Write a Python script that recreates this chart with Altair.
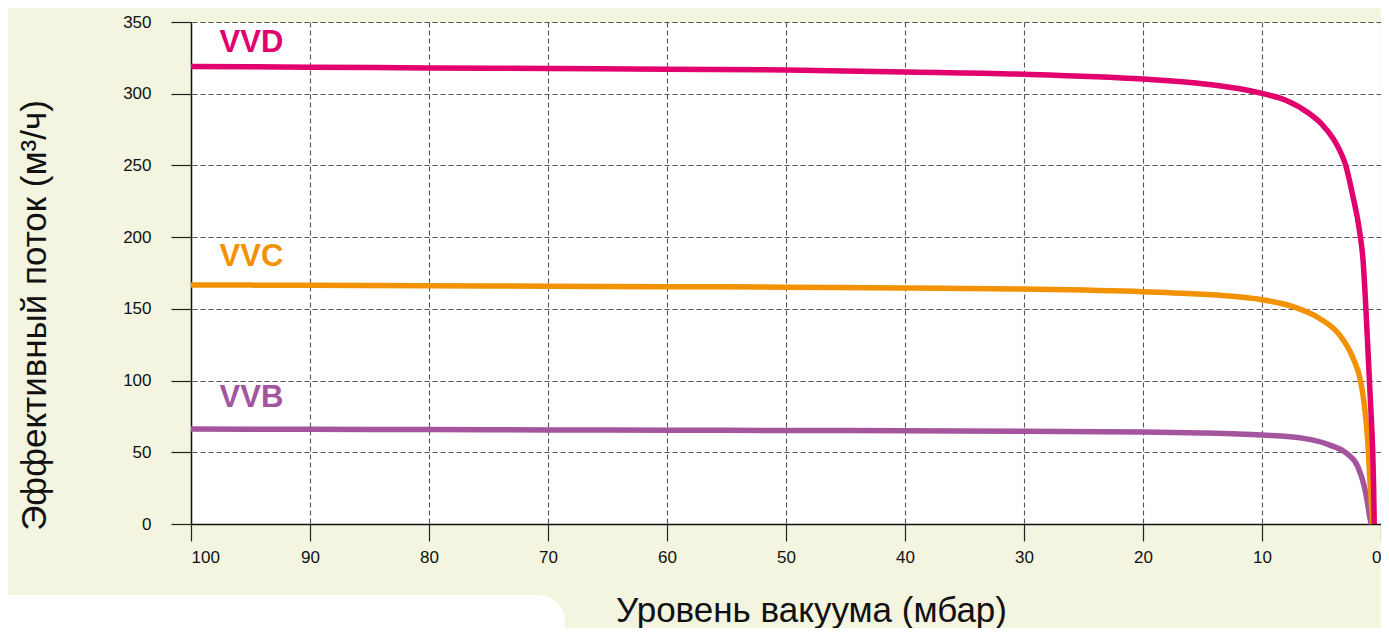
import altair as alt
import pandas as pd

# ---- data ----
vvd_x = [100, 90, 80, 70, 60, 50, 40, 30, 20, 15, 12, 10, 8, 6, 5, 4, 3.5, 3, 2.4, 1.8, 1.5, 1.3, 1.1, 0.95, 0.8, 0.7, 0.62, 0.57]
vvd_y = [319, 318.5, 318, 317.6, 317.1, 316.5, 315.2, 313.6, 310.2, 307, 303.6, 300.2, 295.5, 286, 279, 268.5, 261, 251, 230, 204, 183, 155, 122, 96, 71, 52, 26, 0]

vvc_x = [100, 90, 80, 70, 60, 50, 40, 30, 20, 15, 12, 10, 7.4, 5.2, 3.5, 2.4, 1.7, 1.4, 1.1, 0.95, 0.8, 0.68]
vvc_y = [166.7, 166.4, 166.1, 165.8, 165.5, 165.1, 164.6, 163.8, 162.0, 160.2, 158.4, 156.4, 151.5, 143.5, 132, 116.7, 99, 83, 56, 33, 13, 0]

vvb_x = [100, 90, 80, 70, 60, 50, 40, 30, 20, 15, 12, 10, 6.5, 4.3, 2.9, 1.95, 1.4, 1.1, 0.95, 0.82]
vvb_y = [66.2, 66, 65.8, 65.6, 65.4, 65.2, 65, 64.7, 64.1, 63.5, 62.8, 62, 59.7, 55, 49.3, 40, 26, 13, 5, 0]

series_names = ["VVB", "VVC", "VVD"]
series_colors = ["#a4559e", "#f39200", "#e1006d"]
label_x = [97.6, 97.6, 97.6]
label_y = [81.6, 179.9, 329.2]

x_ticks = [100, 90, 80, 70, 60, 50, 40, 30, 20, 10, 0]
y_ticks = [0, 50, 100, 150, 200, 250, 300, 350]

x_title = "Уровень вакуума (мбар)"
y_title = "Эффективный поток (м³/ч)"

# ---- build ----
series_data = {
    "VVB": (vvb_x, vvb_y),
    "VVC": (vvc_x, vvc_y),
    "VVD": (vvd_x, vvd_y),
}

W, H = 1190, 502
xs = alt.Scale(domain=[0, 100], reverse=True, nice=False)
ys = alt.Scale(domain=[0, 350], nice=False)

x_axis = alt.Axis(values=x_ticks, title=x_title, grid=True, tickSize=17,
                  labelPadding=8, titleX=620, titleY=86, titleBaseline="middle",
                  titleAnchor="middle", titleAlign="center")
y_axis = alt.Axis(values=y_ticks, title=y_title, grid=True, tickSize=20,
                  labelPadding=20, titleX=-157, titleY=293, titleBaseline="middle",
                  titleAlign="center", titleAngle=-90)

layers = []

# white cut-out in the lower-left of the beige background (decoration)
cut = alt.Chart(pd.DataFrame({"d": [0]})).mark_rect(
    color="white", cornerRadius=26
).encode(x=alt.value(-240), x2=alt.value(374), y=alt.value(573), y2=alt.value(660))
layers.append(cut)

for name, color in zip(series_names, series_colors):
    sx, sy = series_data[name]
    df = pd.DataFrame({"vac": sx, "flow": sy, "series": name})
    line = alt.Chart(df).mark_line(
        color=color, strokeWidth=5.5, interpolate="monotone", strokeCap="butt"
    ).encode(
        x=alt.X("vac:Q", scale=xs, axis=x_axis),
        y=alt.Y("flow:Q", scale=ys, axis=y_axis),
    )
    layers.append(line)

lab_df = pd.DataFrame({"vac": label_x, "flow": label_y, "name": series_names, "color": series_colors})
labels = alt.Chart(lab_df).mark_text(
    font="Liberation Sans", fontWeight="bold", fontSize=31, align="left", baseline="alphabetic"
).encode(
    x=alt.X("vac:Q", scale=xs, axis=x_axis),
    y=alt.Y("flow:Q", scale=ys, axis=y_axis),
    text="name:N",
    color=alt.Color("color:N", scale=None),
)
layers.append(labels)

chart = alt.layer(*layers).properties(
    width=W, height=H,
    autosize=alt.AutoSizeParams(type="none"),
    padding={"left": 183, "top": 14, "right": 0, "bottom": 104},
    background="#f3f5e1",
).configure_view(
    fill="white", stroke="transparent"
).configure_axis(
    domainColor="#111111", domainWidth=1.5,
    tickColor="#222222", tickWidth=1.2,
    gridColor="#555555", gridDash=[5, 3], gridWidth=1.1,
    labelFont="Liberation Sans", labelFontSize=17, labelColor="#111111",
    titleFont="Liberation Sans", titleFontSize=35, titleFontWeight="normal",
    titleColor="#111111",
)

chart.save("out.html", embed_options={"renderer": "svg", "actions": False})
